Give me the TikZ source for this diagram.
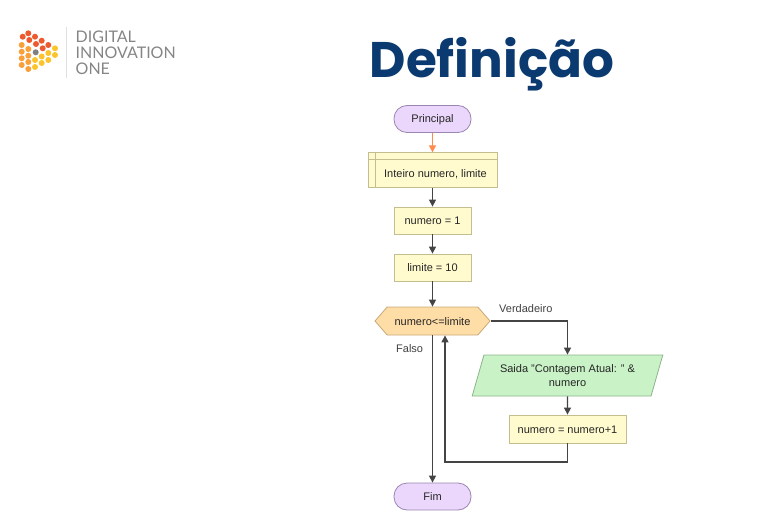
\documentclass[tikz,border=0pt]{standalone}
\usepackage{fontspec}
\setmainfont{Liberation Sans}
\newfontfamily\titlefont{Poppins}
\newfontfamily\logofont{Lato}
\usetikzlibrary{arrows.meta,shapes.geometric,shapes.symbols}
\definecolor{pillfill}{HTML}{EAD7FB}
\definecolor{pilledge}{HTML}{9A86B0}
\definecolor{boxfill}{HTML}{FFFBCF}
\definecolor{boxedge}{HTML}{C4BD8E}
\definecolor{hexfill}{HTML}{FFDDA6}
\definecolor{hexedge}{HTML}{C9A878}
\definecolor{parafill}{HTML}{C9F2C6}
\definecolor{paraedge}{HTML}{8DB58C}
\definecolor{flowc}{HTML}{444444}
\definecolor{titlec}{HTML}{0B3A70}
\definecolor{lred}{HTML}{EE5A30}
\definecolor{lorange}{HTML}{F9A03A}
\definecolor{lyellow}{HTML}{FBC42C}
\tikzset{
  txt/.style={font=\fontsize{11}{13.5}\selectfont,text=black!85},
  oneline/.style={text height=8pt,text depth=0pt},
  pill/.style={txt,oneline,draw=pilledge,fill=pillfill,line width=.8pt,rounded corners=13pt,minimum width=77pt,minimum height=27pt,inner sep=0pt},
  procbox/.style={txt,oneline,draw=boxedge,fill=boxfill,line width=.8pt,minimum height=27pt,inner sep=0pt},
  hexbox/.style={txt,oneline,draw=hexedge,fill=hexfill,line width=.8pt,signal,signal to=east and west,signal pointer angle=98,minimum width=115pt,minimum height=28pt,inner sep=0pt},
  parabox/.style={txt,draw=paraedge,fill=parafill,line width=.8pt,trapezium,trapezium left angle=66.3,trapezium right angle=113.7,trapezium stretches=true,minimum width=191pt,minimum height=41pt,inner sep=0pt,align=center},
  flow/.style={draw=flowc,line width=1.4pt,-{Triangle[length=7pt,width=7pt]}},
  startflow/.style={flow,draw=orange!70!red!70,line width=1.2pt},
  lbl/.style={font=\fontsize{11}{13}\selectfont,text=black!75,inner sep=0pt},
  logotext/.style={font=\logofont\fontsize{16}{17}\selectfont,text=black!48,inner sep=0pt,anchor=west},
  dotr/.style={fill=lred,draw=none},
  doto/.style={fill=lorange,draw=none},
  doty/.style={fill=lyellow,draw=none},
}
\begin{document}
\begin{tikzpicture}[x=1pt,y=-1pt]
\useasboundingbox (0,0) rectangle (760,524);
% logo
\foreach \x/\y in {28.3/33.3,35/36.7,41.7/40.7,48.3/45,22.7/36.7,29.3/40,36/44,42.7/48.3}
  \fill[dotr] (\x,\y) circle (3pt);
\foreach \x/\y in {21.7/45,21.7/51.7,21.7/58.3,21.7/65,28.3/49,28.3/55.7,28.3/62,28.3/69}
  \fill[doto] (\x,\y) circle (3pt);
\foreach \x/\y in {55/48.3,48.3/53,55/55,41.7/56.5,48.3/60,35/60,41.7/63,35/67}
  \fill[doty] (\x,\y) circle (3pt);
\fill[black!50] (35.7,52.3) circle (3pt);
\draw[black!12,line width=.8pt] (66,27) -- (66,78);
\node[logotext] (l1) at (75.5,37) {DIGITAL};
\node[logotext] (l2) at (75.5,53) {INNOVATION};
\node[logotext] (l3) at (75.5,69) {ONE};
% title
\node[font=\titlefont\bfseries\fontsize{50}{56}\selectfont,text=titlec,inner sep=0pt] (title) at (492,64) {Definição};
% flow nodes
\node[pill] (start) at (432.5,119) {Principal};
\node[procbox,minimum width=129pt,minimum height=34.5pt] (decl) at (432.5,170) {};
\node[txt,oneline,inner sep=0pt] (decltext) at (435.5,173) {Inteiro numero, limite};
\draw[boxedge,line width=.8pt] (decl.north west |- 0,159) -- (decl.north east |- 0,159);
\draw[boxedge,line width=.8pt] (375,0 |- decl.north) -- (375,0 |- decl.south);
\node[procbox,minimum width=77pt] (n1) at (432.5,220.5) {numero = 1};
\node[procbox,minimum width=77pt] (lim) at (432.5,267.5) {limite = 10};
\node[hexbox] (cond) at (432.5,321) {numero<=limite};
\node[parabox] (out) at (567.5,375.5) {Saida "Contagem Atual: " \&\\numero};
\node[procbox,minimum width=117pt,minimum height=28pt] (inc) at (567.5,429) {numero = numero+1};
\node[pill] (end) at (432.5,496.5) {Fim};
\coordinate (loop) at (445,462);
% connectors
\draw[startflow] (start.south) -- (decl.north);
\draw[flow] (decl.south) -- (n1.north);
\draw[flow] (n1.south) -- (lim.north);
\draw[flow] (lim.south) -- (cond.north);
\draw[flow] (cond.east) -| (out.north);
\draw[flow] (out.south) -- (inc.north);
\draw[flow] (cond.south) -- (end.north);
\draw[flow] (inc.south) |- (loop) -- (loop |- cond.south);
% labels
\node[lbl,anchor=west] (vlabel) at (499,308.5) {Verdadeiro};
\node[lbl,anchor=west] (flabel) at (396,348.5) {Falso};
\end{tikzpicture}
\end{document}
